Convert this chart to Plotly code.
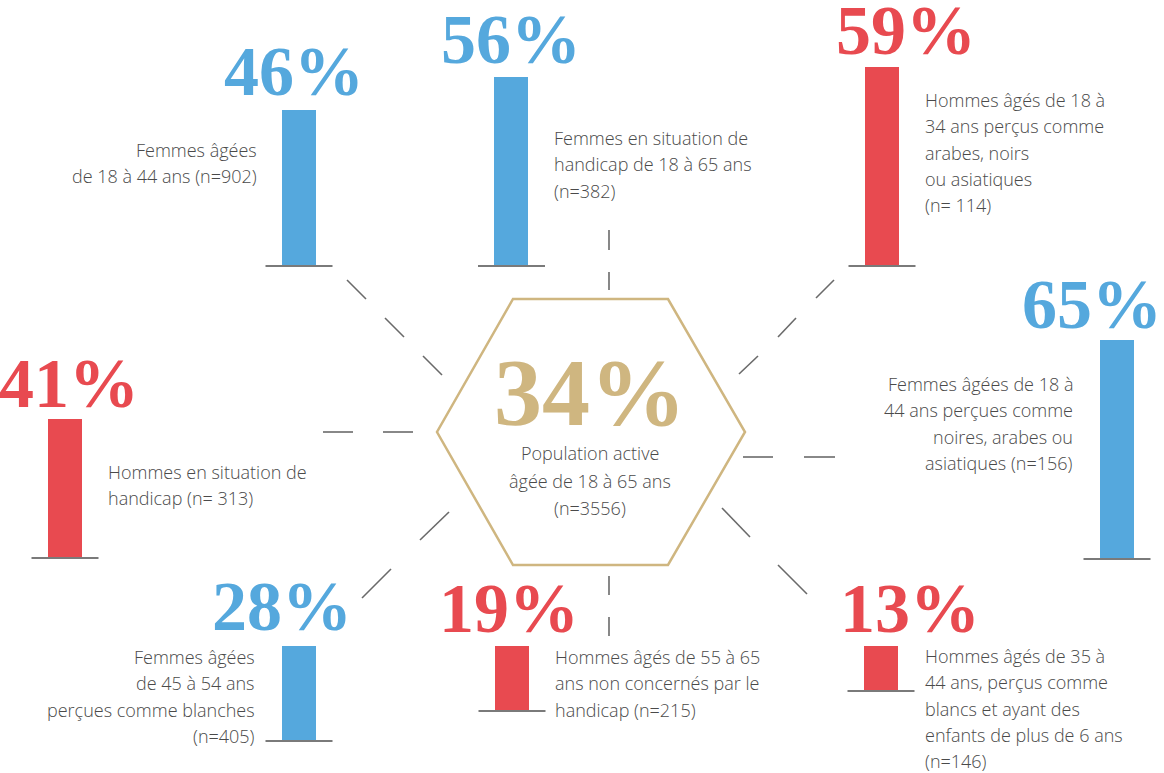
import plotly.graph_objects as go

# data
values = [46, 56, 59, 65, 41, 28, 19, 13]
groups = ["Femmes", "Femmes", "Hommes", "Femmes", "Hommes", "Femmes", "Hommes", "Hommes"]
descriptions = [
    "Femmes âgées\nde 18 à 44 ans (n=902)",
    "Femmes en situation de\nhandicap de 18 à 65 ans\n(n=382)",
    "Hommes âgés de 18 à\n34 ans perçus comme\narabes, noirs\nou asiatiques\n(n= 114)",
    "Femmes âgées de 18 à\n44 ans perçues comme\nnoires, arabes ou\nasiatiques (n=156)",
    "Hommes en situation de\nhandicap (n= 313)",
    "Femmes âgées\nde 45 à 54 ans\nperçues comme blanches\n(n=405)",
    "Hommes âgés de 55 à 65\nans non concernés par le\nhandicap (n=215)",
    "Hommes âgés de 35 à\n44 ans, perçus comme\nblancs et ayant des\nenfants de plus de 6 ans\n(n=146)",
]
center_value = 34
center_text = "Population active\nâgée de 18 à 65 ans\n(n=3556)"

# layout (pixel canvas)
W, H = 1164, 773
px_per_pct = 3.36
bar_x = [299, 511.5, 882, 1117, 65, 299, 512, 881]
bar_base = [265, 265, 265, 558, 557, 740, 710, 690]
pct_pos = [(294, 71), (511, 39), (906, 30), (1092, 304), (69, 383), (282, 606), (509, 608), (910, 608)]
desc_pos = [(259, 150, "right"), (552, 138, "left"), (923, 100, "left"), (1075, 384, "right"),
            (106, 472, "left"), (257, 657, "right"), (553, 657, "left"), (923, 656, "left")]
line_gap = 26.3

colors = {"Femmes": "#55a8dd", "Hommes": "#e84a50"}
gold = "#cfb680"
text_color = "#4a4a4a"
body_font = "Open Sans"
pct_font = "Liberation Serif"

fig = go.Figure()

for g in ["Femmes", "Hommes"]:
    idx = [i for i, gg in enumerate(groups) if gg == g]
    fig.add_trace(go.Bar(
        x=[bar_x[i] for i in idx],
        y=[-values[i] * px_per_pct for i in idx],
        base=[bar_base[i] for i in idx],
        width=34,
        marker=dict(color=colors[g], line=dict(width=0)),
        name=g, showlegend=False, hoverinfo="skip",
    ))

shapes = []
annotations = []

# baselines under bars
for x, b in zip(bar_x, bar_base):
    shapes.append(dict(type="line", x0=x - 33.5, x1=x + 33.5, y0=b + 1, y1=b + 1,
                       line=dict(color="#7a7a7a", width=2)))

# percentage labels
for v, g, (x, y) in zip(values, groups, pct_pos):
    annotations.append(dict(x=x, y=y, text=f"{v}%", showarrow=False, xanchor="center", yanchor="middle",
                            font=dict(family=pct_font, size=70, color=colors[g], weight="bold")))

# descriptions, one annotation per line
for txt, (x, y, al) in zip(descriptions, desc_pos):
    for k, line in enumerate(txt.split("\n")):
        annotations.append(dict(x=x, y=y + k * line_gap, text=line, showarrow=False,
                                xanchor=al, yanchor="middle",
                                font=dict(family=body_font, size=18, color=text_color, weight=300)))

# central hexagon
shapes.append(dict(type="path", path="M 513 299 L 668 299 L 745 432 L 668 565 L 513 565 L 437 432 Z",
                   line=dict(color=gold, width=2.5)))
annotations.append(dict(x=590, y=392, text=f"{center_value}%", showarrow=False,
                        font=dict(family=pct_font, size=96, color=gold, weight="bold")))
for k, line in enumerate(center_text.split("\n")):
    annotations.append(dict(x=590, y=453 + k * 27.5, text=line, showarrow=False, yanchor="middle",
                            font=dict(family=body_font, size=18, color=text_color, weight=300)))

# dashed rays around the hexagon
rays = [
    (347, 280, 366, 299), (385, 318, 404, 337), (423, 356, 442, 375),
    (816, 298, 834, 280), (778, 337, 796, 318), (739, 374, 758, 356),
    (362, 598, 391, 569), (420, 540, 449, 512),
    (722, 508, 750, 537), (778, 565, 807, 594),
    (323, 432, 353, 432), (383, 432, 413, 432),
    (743, 457, 773, 457), (804, 457, 835, 457),
    (609, 230, 609, 250), (609, 272, 609, 290),
    (609, 576, 609, 595), (609, 617, 609, 636),
]
for x0, y0, x1, y1 in rays:
    shapes.append(dict(type="line", x0=x0, y0=y0, x1=x1, y1=y1, line=dict(color="#6a6a6a", width=1.6)))

fig.update_layout(
    width=W, height=H,
    margin=dict(l=0, r=0, t=0, b=0),
    paper_bgcolor="white", plot_bgcolor="white",
    xaxis=dict(range=[0, W], visible=False, fixedrange=True),
    yaxis=dict(range=[H, 0], visible=False, fixedrange=True),
    shapes=shapes, annotations=annotations,
    bargap=0,
)

# the page body has an 8px default margin; drop it so the canvas sits at the window origin
fig.write_html("out.html", config={"displayModeBar": False},
               post_script="document.body.style.margin='0';document.body.style.overflow='hidden';")
